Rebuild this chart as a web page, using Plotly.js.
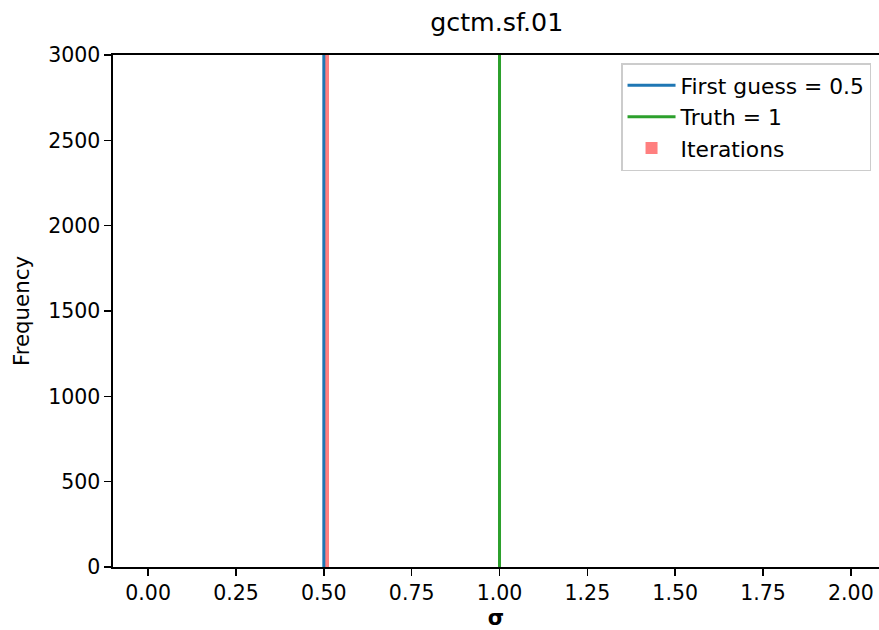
<!DOCTYPE html>
<html>
<head>
<meta charset="utf-8">
<script src="https://cdn.plot.ly/plotly-3.0.1.min.js"></script>
<style>html,body{margin:0;padding:0;background:#fff;overflow:hidden}</style>
</head>
<body>
<div id="chart" style="width:879px;height:630px"></div>
<script>
// Data
const firstGuess = 0.5;
const truth = 1;
const iterBinLeft = [0.5];
const iterBinWidth = [0.015];
const iterCounts = [5000];
const xTickVals = [0, 0.25, 0.5, 0.75, 1.0, 1.25, 1.5, 1.75, 2.0];
const xTickText = ['0.00','0.25','0.50','0.75','1.00','1.25','1.50','1.75','2.00'];
const yTickVals = [0, 500, 1000, 1500, 2000, 2500, 3000];

const yMax = 3000;

const traces = [
  {
    type: 'scatter', mode: 'lines', name: 'First guess = ' + firstGuess,
    x: [firstGuess, firstGuess], y: [0, yMax],
    line: {color: '#1f77b4', width: 3}
  },
  {
    type: 'scatter', mode: 'lines', name: 'Truth = ' + truth,
    x: [truth, truth], y: [0, yMax],
    line: {color: '#2ca02c', width: 3}
  },
  {
    type: 'bar', name: 'Iterations',
    x: iterBinLeft.map((l, i) => l + iterBinWidth[i] / 2),
    width: iterBinWidth,
    y: iterCounts,
    marker: {color: 'rgba(255,0,0,0.5)', line: {width: 0}}
  }
];

const layout = {
  width: 879, height: 630,
  margin: {l: 113, r: 0, t: 55, b: 63},
  paper_bgcolor: '#fff', plot_bgcolor: '#fff',
  font: {family: 'DejaVu Sans', size: 20.5, color: '#000'},
  title: {text: 'gctm.sf.01', font: {size: 25.3, color: '#000'}, x: 0.501, xanchor: 'center', xref: 'paper', y: 0.965, yanchor: 'middle'},
  showlegend: true,
  legend: {
    x: 0.9896, xanchor: 'right', y: 0.984, yanchor: 'top',
    bgcolor: 'rgba(255,255,255,0.8)', bordercolor: '#cccccc', borderwidth: 1.5,
    font: {size: 21.8, color: '#000'}, traceorder: 'normal', itemwidth: 48
  },
  xaxis: {
    range: [-0.1, 2.08],
    tickvals: xTickVals, ticktext: xTickText,
    ticks: 'outside', ticklen: 7, tickwidth: 1.6, tickcolor: '#000',
    showline: true, linecolor: '#000', linewidth: 1.6, mirror: true,
    showgrid: false, zeroline: false,
    tickfont: {size: 20.5, color: '#000'},
    title: {text: '<b>σ</b>', font: {size: 21, color: '#000'}, standoff: 12}
  },
  yaxis: {
    range: [0, yMax],
    tickvals: yTickVals,
    ticks: 'outside', ticklen: 7, tickwidth: 1.6, tickcolor: '#000',
    showline: true, linecolor: '#000', linewidth: 1.6, mirror: false,
    showgrid: false, zeroline: false,
    tickfont: {size: 20.5, color: '#000'},
    title: {text: 'Frequency', font: {size: 21.3, color: '#000'}, standoff: 12}
  },
  bargap: 0
};

Plotly.newPlot('chart', traces, layout, {displayModeBar: false, staticPlot: true});
</script>
</body>
</html>
